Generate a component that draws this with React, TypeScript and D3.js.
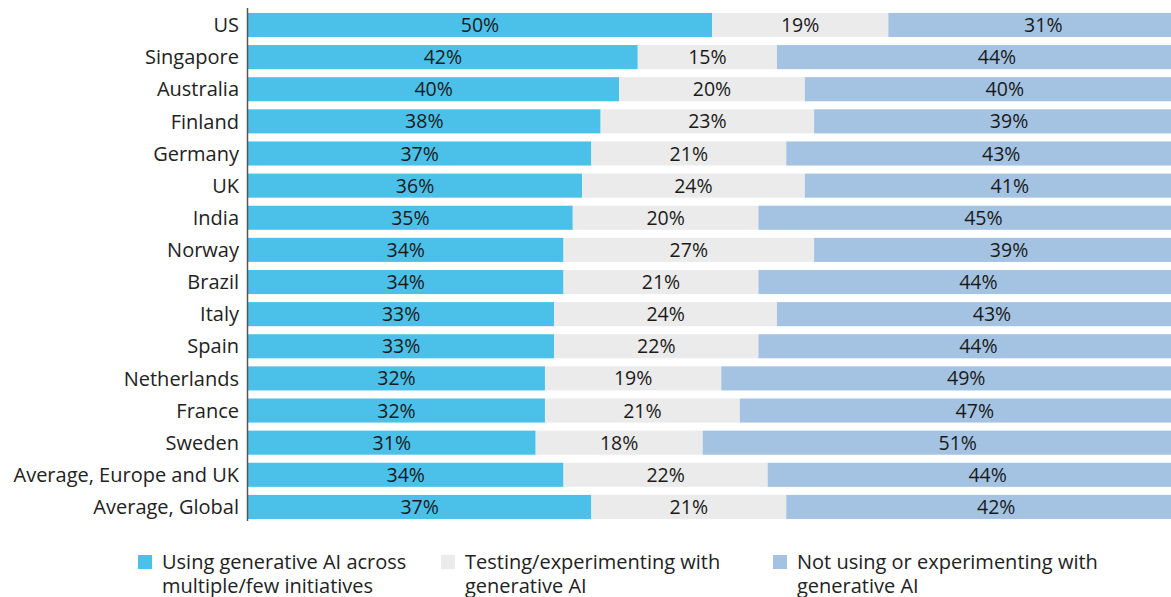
import React from "react";
import * as d3 from "d3";

const categories = ["US","Singapore","Australia","Finland","Germany","UK","India","Norway","Brazil","Italy","Spain","Netherlands","France","Sweden","Average, Europe and UK","Average, Global"];
const using = [50,42,40,38,37,36,35,34,34,33,33,32,32,31,34,37];
const testing = [19,15,20,23,21,24,20,27,21,24,22,19,21,18,22,21];
const notUsing = [31,44,40,39,43,41,45,39,44,43,44,49,47,51,44,42];
const seriesNames = ["Using generative AI across|multiple/few initiatives","Testing/experimenting with|generative AI","Not using or experimenting with|generative AI"];
const colors = ["#4BC1EA","#EBEBEB","#A4C3E3"];

const W = 1171, H = 597;
const FONT = "'Open Sans', 'Noto Sans', sans-serif";

export default function App() {
  const x = d3.scaleLinear().domain([0, 100]).range([248, 1176]);
  // the last (clipped) segment's label sits on a wider, off-canvas span
  const labelSpan = d3.scaleLinear().domain([0, 100]).range([0, 1000]);
  const y = d3.scaleBand().domain(categories).range([8.9, 523]).paddingInner(0.25).paddingOuter(0.125);
  const rows = categories.map((c, i) => ({ c, vals: [using[i], testing[i], notUsing[i]] }));
  const legendX = [138, 441, 773];
  return (
    <svg width={W} height={H} style={{ position: "absolute", left: 0, top: 0, fontFamily: FONT }}>
      {rows.map((r) => {
        let acc = 0;
        const y0 = y(r.c)!;
        return (
          <g key={r.c}>
            {r.vals.map((v, k) => {
              const x0 = x(acc);
              acc += v;
              const last = k === r.vals.length - 1;
              const x1 = last ? x(Math.max(acc, 100)) : x(acc);
              const cx = last ? x0 + labelSpan(v) / 2 : (x0 + x1) / 2;
              return (
                <g key={k}>
                  <rect x={x0} y={y0} width={x1 - x0} height={y.bandwidth()} fill={colors[k]} />
                  <text x={cx} y={y0 + y.bandwidth() / 2} dy="0.36em" textAnchor="middle" fontSize={19.5} fill="#1a1a1a">{v}%</text>
                </g>
              );
            })}
            <text x={239} y={y0 + y.bandwidth() / 2} dy="0.36em" textAnchor="end" fontSize={20} fill="#222">{r.c}</text>
          </g>
        );
      })}
      <line x1={247.5} x2={247.5} y1={8} y2={521} stroke="#555" strokeWidth={1.5} />
      {seriesNames.map((s, k) => (
        <g key={s}>
          <rect x={legendX[k]} y={555} width={14} height={14} fill={colors[k]} />
          {s.split("|").map((line, j) => (
            <text key={j} x={legendX[k] + 24} y={569 + j * 23.5} fontSize={20} fill="#222">{line}</text>
          ))}
        </g>
      ))}
    </svg>
  );
}
